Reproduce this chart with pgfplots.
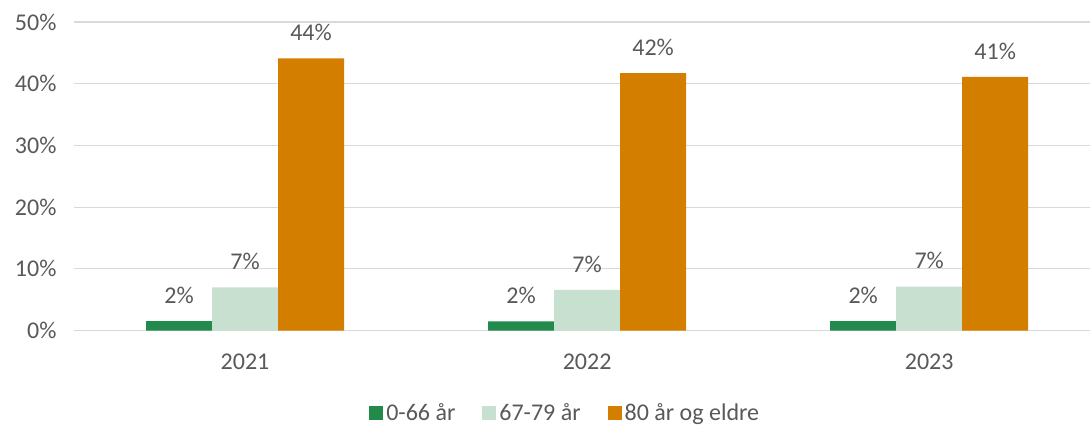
\documentclass[border=0pt]{standalone}
\usepackage{pgfplots}
\pgfplotsset{compat=1.18}
\usepackage{fontspec}
\setmainfont{Carlito}
\definecolor{dgreen}{RGB}{34,139,75}
\definecolor{lgreen}{RGB}{200,224,208}
\definecolor{orng}{RGB}{212,126,0}
\definecolor{txt}{RGB}{89,89,89}
\definecolor{gridc}{RGB}{217,217,217}
\begin{document}
\begin{tikzpicture}[x=1pt,y=1pt]
\path[use as bounding box] (0,0) rectangle (1090,-425);
\begin{axis}[
  at={(74pt,-330.5pt)}, anchor=south west,
  scale only axis, width=1016pt, height=308.5pt,
  xmin=-0.5, xmax=2.47, ymin=0, ymax=50,
  ybar, bar width=66pt,
  xtick={0,1,2}, xticklabels={2021,2022,2023},
  ytick={0,10,20,30,40,50},
  yticklabel={\pgfmathprintnumber{\tick}\%},
  ymajorgrids=true, xmajorgrids=false,
  major grid style={gridc, line width=1.2pt},
  axis line style={draw=none},
  major tick length=0pt,
  tick label style={font=\fontsize{24}{24}\selectfont, text=txt},
  yticklabel style={xshift=-14pt},
  xticklabel style={yshift=-20pt},
  /pgf/number format/assume math mode=true,
  nodes near coords,
  point meta=explicit symbolic,
  every node near coord/.append style={font=\fontsize{24}{24}\selectfont, text=txt, yshift=14pt},
  legend style={at={(0.2904,-0.266)}, anchor=west, draw=none, inner sep=0pt, legend columns=3, font=\fontsize{24}{24}\selectfont, text=txt,
    nodes={inner sep=3pt},
    /tikz/every even column/.append style={column sep=24pt}},
  legend image code/.code={\fill[#1] (0pt,-7pt) rectangle (14pt,7pt);},
]
\addplot[fill=dgreen, draw=none, bar shift=-66pt] coordinates {(0,1.5)[2\%] (1,1.46)[2\%] (2,1.5)[2\%]};
\addplot[fill=lgreen, draw=none, bar shift=0pt] coordinates {(0,7.0)[7\%] (1,6.6)[7\%] (2,7.1)[7\%]};
\addplot[fill=orng, draw=none, bar shift=66pt] coordinates {(0,44.1)[44\%] (1,41.7)[42\%] (2,41.1)[41\%]};
\legend{0-66 år, 67-79 år, 80 år og eldre}
\end{axis}
\end{tikzpicture}
\end{document}
